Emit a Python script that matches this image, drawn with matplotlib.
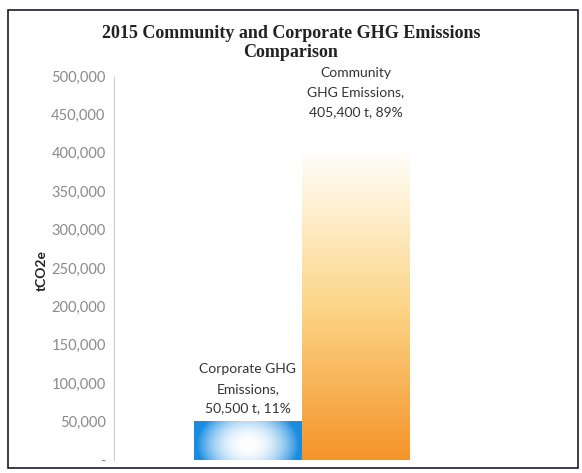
import matplotlib.pyplot as plt
import numpy as np
from matplotlib.patches import Rectangle

# data
categories = ["Corporate", "Community"]
values = [50500, 405400]
labels = ["Corporate GHG\nEmissions,\n50,500 t, 11%",
          "Community\nGHG Emissions,\n405,400 t, 89%"]
yticks = [0, 50000, 100000, 150000, 200000, 250000, 300000, 350000, 400000, 450000, 500000]
ytick_labels = ["-"] + ["{:,}".format(v) for v in yticks[1:]]

fig = plt.figure(figsize=(5.82, 4.73), dpi=100)
ax = fig.add_axes([114 / 582, 13 / 473, 450 / 582, 384 / 473])

x = np.arange(len(categories))
bars = ax.bar(x, values, width=1.0, color="none", edgecolor="none")

# blue bar: white glow in the middle, blue at the edges
u = np.linspace(-1, 1, 200)
v = np.linspace(0, 1, 100)
U, V = np.meshgrid(u, v)
r = np.clip(np.sqrt((U / 0.95) ** 2 + ((V - 0.4) / 1.0) ** 2), 0, 1)
k = r[..., None] ** 2.2
blue = np.array([0.10, 0.55, 0.88])
img_b = np.ones((100, 200, 3)) * (1 - k) + blue * k
b0 = bars[0]
im = ax.imshow(img_b, extent=[b0.get_x(), b0.get_x() + b0.get_width(), 0, b0.get_height()],
               origin="lower", aspect="auto", zorder=2)
im.set_clip_path(b0)

# orange bar: orange at the bottom, yellowish in the middle, white at the top
stops = [0.0, 0.5, 0.9, 1.0]
cols = np.array([[0.96, 0.58, 0.16], [0.99, 0.84, 0.54],
                 [1.0, 0.97, 0.90], [1.0, 1.0, 1.0]])
t = np.linspace(0, 1, 200)
img_o = np.stack([np.interp(t, stops, cols[:, c]) for c in range(3)], axis=-1)
img_o = np.repeat(img_o[:, None, :], 10, axis=1)
b1 = bars[1]
im2 = ax.imshow(img_o, extent=[b1.get_x(), b1.get_x() + b1.get_width(), 0, b1.get_height()],
                origin="lower", aspect="auto", zorder=2)
im2.set_clip_path(b1)

ax.set_xlim(-1.24, 2.93)
ax.set_ylim(0, 500000)
ax.set_yticks(yticks)
ax.set_yticklabels(ytick_labels, color="#8a8a8a", fontsize=10.5, family="Lato")
ax.tick_params(axis="y", length=0, pad=6)
ax.set_xticks([])
for s in ["top", "right", "bottom"]:
    ax.spines[s].set_visible(False)
ax.spines["left"].set_color("#cccccc")
ax.spines["left"].set_linestyle((0, (1, 1)))
ax.spines["left"].set_linewidth(0.8)

# label gap above each bar, in points
gaps = [5, 22]
for xi, val, lab, g in zip(x, values, labels, gaps):
    ax.annotate(lab, (xi, val), xytext=(0, g), textcoords="offset points",
                ha="center", va="bottom", fontsize=10, color="#333333",
                family="Lato", linespacing=1.75)

fig.text(0.5, 1 - 43 / 473, "2015 Community and Corporate GHG Emissions\nComparison",
         ha="center", va="center", fontsize=13, fontweight="bold",
         family="Liberation Serif", color="#222222", linespacing=1.2)
fig.text(42 / 582, 1 - 270 / 473, "tCO2e", rotation=90, ha="center", va="center",
         fontsize=10, fontweight="bold", family="Lato", color="#222222")

fig.add_artist(Rectangle((8 / 582, 5 / 473), 570 / 582, 458 / 473, transform=fig.transFigure,
                         fill=False, edgecolor="#1a1a2e", linewidth=1.2))

fig.savefig("out.png", dpi=100)
